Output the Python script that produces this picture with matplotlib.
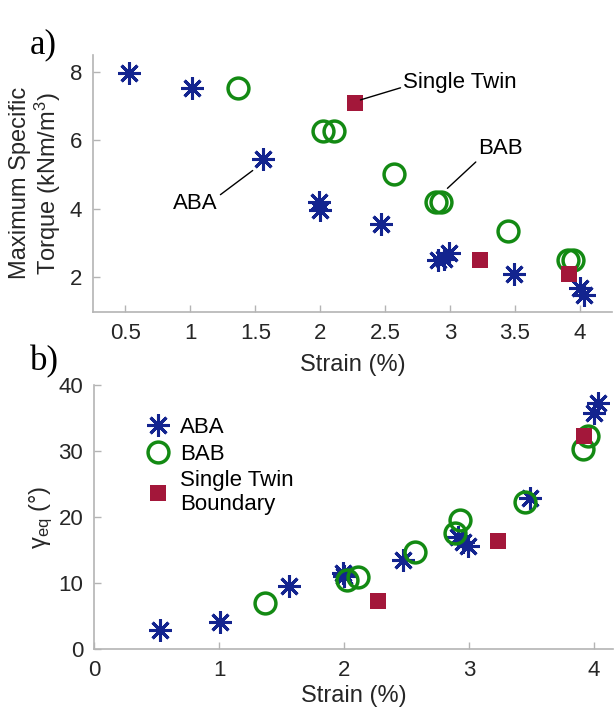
import numpy as np
import matplotlib.pyplot as plt
from matplotlib.lines import Line2D

plt.rcParams['font.family'] = ['Liberation Sans', 'DejaVu Sans']
plt.rcParams['mathtext.fontset'] = 'custom'
plt.rcParams['mathtext.rm'] = 'Liberation Sans'
plt.rcParams['mathtext.it'] = 'Liberation Sans:italic'

# strain (%) for each sample group
aba_strain = [0.53, 1.01, 1.56, 1.99, 2.0, 2.47, 2.91, 2.95, 2.99, 3.49, 4.0, 4.03]
bab_strain = [1.37, 2.02, 2.11, 2.57, 2.89, 2.93, 3.45, 3.91, 3.95]
stb_strain = [2.27, 3.23, 3.92]

# maximum specific torque (kNm/m^3)
aba_torque = [7.96, 7.54, 5.46, 4.2, 3.98, 3.56, 2.5, 2.55, 2.72, 2.1, 1.7, 1.48]
bab_torque = [7.54, 6.28, 6.28, 5.02, 4.19, 4.19, 3.35, 2.51, 2.51]
stb_torque = [7.1, 2.51, 2.09]

# equivalent shear angle (deg)
aba_gamma = [2.9, 4.1, 9.5, 11.5, 11.0, 13.5, 17.0, 16.2, 15.6, 22.8, 35.7, 37.2]
bab_gamma = [7.0, 10.4, 10.9, 14.7, 17.5, 19.6, 22.3, 30.3, 32.2]
stb_gamma = [7.2, 16.3, 32.2]

blue = '#13248f'
green = '#138a13'
red = '#a3173a'
spine_grey = '#b4b4b4'
text_grey = '#262626'

aba_style = dict(linestyle='none', marker=(8, 2, 0), markersize=16,
                 markeredgewidth=2.2, color=blue, markeredgecolor=blue)
bab_style = dict(linestyle='none', marker='o', markersize=15,
                 markeredgewidth=2.5, markerfacecolor='none', markeredgecolor=green)
stb_style = dict(linestyle='none', marker='s', markersize=11,
                 markeredgewidth=0, color=red)

fig = plt.figure(figsize=(6.16, 7.1), dpi=100)
ax1 = fig.add_axes([0.151, 0.561, 0.843, 0.362])
ax2 = fig.add_axes([0.153, 0.086, 0.842, 0.372])


def style_axes(ax):
    for side in ['top', 'right']:
        ax.spines[side].set_visible(False)
    for side in ['left', 'bottom']:
        ax.spines[side].set_color(spine_grey)
        ax.spines[side].set_linewidth(1.2)
    ax.tick_params(direction='in', length=5, width=1.0, color=spine_grey,
                   labelsize=16, labelcolor=text_grey, pad=8)


# torque vs strain
ax1.plot(aba_strain, aba_torque, **aba_style)
ax1.plot(bab_strain, bab_torque, **bab_style)
ax1.plot(stb_strain, stb_torque, **stb_style)
ax1.set_xlim(0.25, 4.25)
ax1.set_ylim(1, 8.5)
ax1.set_xticks([0.5, 1, 1.5, 2, 2.5, 3, 3.5, 4])
ax1.set_xticklabels(['0.5', '1', '1.5', '2', '2.5', '3', '3.5', '4'])
ax1.set_yticks([2, 4, 6, 8])
style_axes(ax1)
ax1.set_xlabel('Strain (%)', fontsize=17, color=text_grey, labelpad=7)
ax1.set_ylabel('Maximum Specific\nTorque (kNm/m$^3$)', fontsize=17,
               color=text_grey, labelpad=5, linespacing=1.05)

arrow = dict(arrowstyle='-', color='black', lw=1.0, shrinkA=0, shrinkB=0)
ax1.annotate('Single Twin', xy=(2.31, 7.18), xytext=(2.64, 7.68),
             fontsize=16, color='black', va='center', ha='left',
             arrowprops=dict(arrow, relpos=(0, 0.3)))
ax1.annotate('BAB', xy=(2.98, 4.6), xytext=(3.22, 5.75),
             fontsize=16, color='black', va='center', ha='left',
             arrowprops=dict(arrow, relpos=(0, 0)))
ax1.annotate('ABA', xy=(1.48, 5.12), xytext=(1.21, 4.17),
             fontsize=16, color='black', va='center', ha='right',
             arrowprops=dict(arrow, relpos=(1, 0.8)))

# shear angle vs strain
ax2.plot(aba_strain, aba_gamma, **aba_style)
ax2.plot(bab_strain, bab_gamma, **bab_style)
ax2.plot(stb_strain, stb_gamma, **stb_style)
ax2.set_xlim(0, 4.15)
ax2.set_ylim(0, 40)
ax2.set_xticks([0, 1, 2, 3, 4])
ax2.set_yticks([0, 10, 20, 30, 40])
style_axes(ax2)
ax2.set_xlabel('Strain (%)', fontsize=17, color=text_grey, labelpad=3)
ax2.set_ylabel('γ$_{\\rm eq}$ (°)', fontsize=17, color=text_grey, labelpad=2)

handles = [Line2D([], [], **aba_style), Line2D([], [], **bab_style),
           Line2D([], [], **stb_style)]
ax2.legend(handles, ['ABA', 'BAB', 'Single Twin\nBoundary'], loc='upper left',
           bbox_to_anchor=(0.08, 0.92), frameon=False, fontsize=16,
           handlelength=1.0, handletextpad=0.5, labelspacing=0.25,
           borderpad=0)

fig.text(0.048, 0.925, 'a)', family='Liberation Serif', fontsize=25)
fig.text(0.048, 0.478, 'b)', family='Liberation Serif', fontsize=25)

fig.savefig('out.png', dpi=100)
